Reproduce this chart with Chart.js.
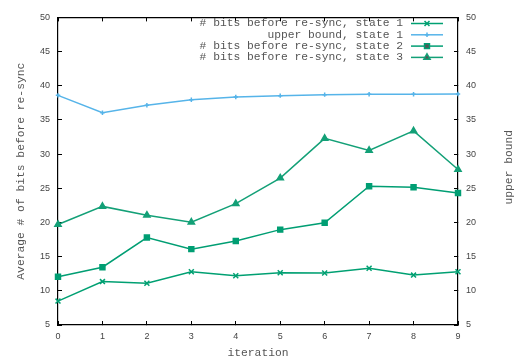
<!DOCTYPE html>
<html>
<head>
<meta charset="utf-8">
<script src="https://cdn.jsdelivr.net/npm/chart.js@4.4.0/dist/chart.umd.min.js"></script>
<style>
html,body{margin:0;padding:0;background:#fff;}
#wrap{width:518px;height:360px;position:relative;}
</style>
</head>
<body>
<div id="wrap"><canvas id="c"></canvas></div>
<script>
const iterations = ['0','1','2','3','4','5','6','7','8','9'];
const bitsState1 = [8.5, 11.35, 11.1, 12.8, 12.2, 12.65, 12.6, 13.3, 12.3, 12.8];
const upperBound1 = [38.6, 36.05, 37.15, 37.95, 38.35, 38.55, 38.7, 38.75, 38.75, 38.8];
const bitsState2 = [12.05, 13.45, 17.8, 16.1, 17.3, 18.95, 19.95, 25.3, 25.15, 24.3];
const bitsState3 = [19.7, 22.35, 21.05, 20.05, 22.75, 26.5, 32.3, 30.55, 33.4, 27.75];
const seriesLabels = ['# bits before re-sync, state 1','upper bound, state 1','# bits before re-sync, state 2','# bits before re-sync, state 3'];
const yTitle = 'Average # of bits before re-sync';
const y2Title = 'upper bound';
const xTitle = 'iteration';

const monoFont = '"Liberation Mono", "DejaVu Sans Mono", monospace';
const sansFont = '"Liberation Sans", Arial, sans-serif';
const textColor = '#444';
const labelColor = '#555';

const legendPlugin = {
  id: 'gpLegend',
  afterDatasetsDraw(chart) {
    const ctx = chart.ctx;
    ctx.save();
    ctx.font = '11.3px ' + monoFont;
    ctx.textAlign = 'right';
    ctx.textBaseline = 'middle';
    const textRight = 403, lx1 = 411, lx2 = 443;
    const rows = [23.5, 34.8, 46.1, 57.4];
    chart.data.datasets.forEach((ds, i) => {
      const y = rows[i];
      ctx.fillStyle = labelColor;
      ctx.fillText(ds.label, textRight, y);
      ctx.strokeStyle = ds.borderColor;
      ctx.lineWidth = ds.borderWidth;
      ctx.beginPath(); ctx.moveTo(lx1, y); ctx.lineTo(lx2, y); ctx.stroke();
      Chart.helpers.drawPoint(ctx, {
        pointStyle: ds.pointStyle, radius: ds.pointRadius, borderWidth: ds.pointBorderWidth || 1, rotation: 0
      }, (lx1 + lx2) / 2, y);
    });
    ctx.restore();
  },
  afterDraw(chart) {
    const ctx = chart.ctx;
    const a = chart.chartArea;
    ctx.save();
    ctx.font = '11.3px ' + monoFont;
    ctx.fillStyle = labelColor;
    ctx.textAlign = 'center';
    ctx.textBaseline = 'middle';
    ctx.translate(509, (a.top + a.bottom) / 2 - 4);
    ctx.rotate(-Math.PI / 2);
    ctx.fillText(y2Title, 0, 0);
    ctx.restore();
  }
};

function mkDs(label, data, color, style, r) {
  return {
    label, data, borderColor: color, backgroundColor: color,
    pointBackgroundColor: color, pointBorderColor: color,
    borderWidth: 1.5, pointStyle: style, pointRadius: r, pointHoverRadius: r,
    pointBorderWidth: 1.5, tension: 0, clip: false, yAxisID: 'y'
  };
}

const tickGrid = { drawOnChartArea: false, drawTicks: true, tickLength: -4, color: '#000', tickColor: '#000', lineWidth: 1 };
const border = { display: true, color: '#000', width: 1.2 };

new Chart(document.getElementById('c'), {
  type: 'line',
  data: {
    labels: iterations,
    datasets: [
      mkDs(seriesLabels[0], bitsState1, '#00a072', 'crossRot', 3.5),
      mkDs(seriesLabels[1], upperBound1, '#56b4e9', 'cross', 2.2),
      mkDs(seriesLabels[2], bitsState2, '#009e73', 'rect', 3.5),
      mkDs(seriesLabels[3], bitsState3, '#13a077', 'triangle', 3.6)
    ]
  },
  options: {
    responsive: true,
    maintainAspectRatio: false,
    animation: false,
    devicePixelRatio: 1,
    layout: { padding: 0 },
    plugins: { legend: { display: false }, tooltip: { enabled: false } },
    scales: {
      x: {
        position: 'bottom',
        offset: false,
        grid: tickGrid,
        border: border,
        ticks: { color: textColor, font: { family: sansFont, size: 9 }, padding: 10, maxRotation: 0, autoSkip: false },
        title: { display: true, text: xTitle, color: labelColor, font: { family: monoFont, size: 11.3 }, padding: 0 },
        afterFit(s) { s.height = 35; }
      },
      x2: {
        position: 'top',
        type: 'category',
        labels: iterations,
        offset: false,
        grid: tickGrid,
        border: border,
        ticks: { display: false },
        afterFit(s) { s.height = 13; }
      },
      y: {
        position: 'left',
        min: 5, max: 50,
        grid: tickGrid,
        border: border,
        ticks: { stepSize: 5, color: textColor, font: { family: sansFont, size: 9 }, padding: 12 },
        title: { display: true, text: yTitle, color: labelColor, font: { family: monoFont, size: 11.3 }, padding: { top: 14, bottom: 0 } },
        afterFit(s) { s.width = 58; }
      },
      y2: {
        position: 'right',
        min: 5, max: 50,
        grid: tickGrid,
        border: border,
        ticks: { stepSize: 5, color: textColor, font: { family: sansFont, size: 9 }, padding: 12 },
        afterFit(s) { s.width = 60; }
      }
    }
  },
  plugins: [legendPlugin]
});
</script>
</body>
</html>
